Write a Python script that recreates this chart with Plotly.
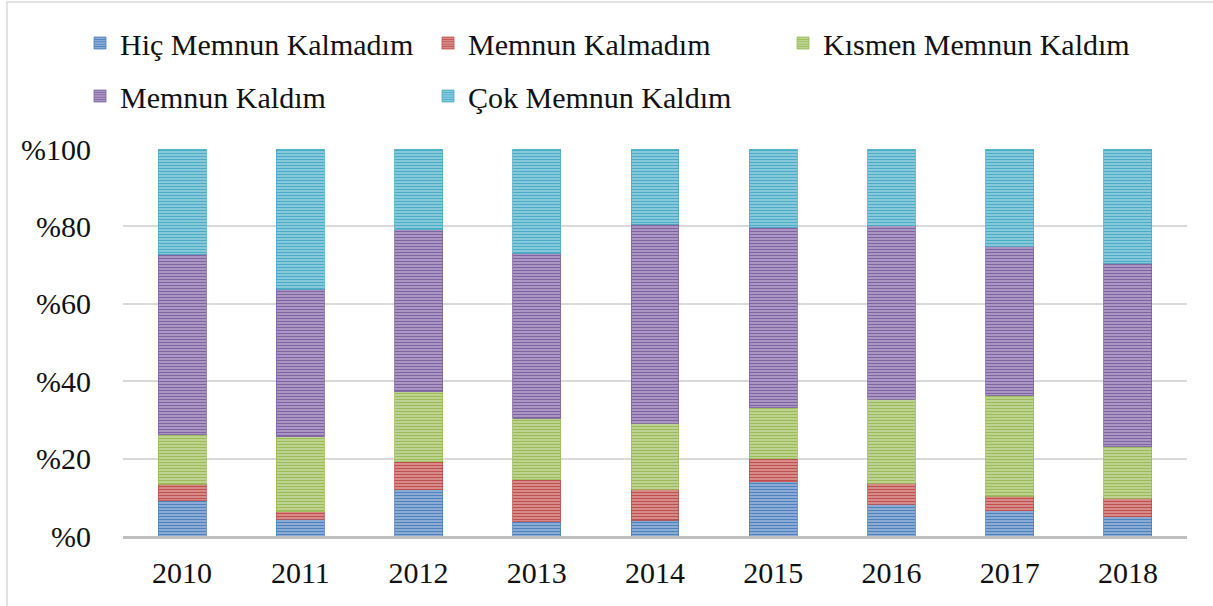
import plotly.graph_objects as go

years = ["2010", "2011", "2012", "2013", "2014", "2015", "2016", "2017", "2018"]
series_names = ["Hiç Memnun Kalmadım", "Memnun Kalmadım", "Kısmen Memnun Kaldım",
                "Memnun Kaldım", "Çok Memnun Kaldım"]
hic = [9.1, 4.3, 11.9, 3.7, 4.1, 14.0, 8.2, 6.5, 5.0]
kalmadim = [4.3, 2.0, 7.3, 10.8, 8.0, 5.9, 5.4, 3.8, 4.7]
kismen = [12.7, 19.4, 18.1, 15.9, 17.0, 13.3, 21.7, 26.1, 13.4]
kaldim = [46.7, 38.0, 41.8, 42.6, 51.4, 46.6, 44.9, 38.5, 47.4]
cok = [27.2, 36.3, 20.9, 27.0, 19.5, 20.2, 19.8, 25.1, 29.5]
tick_vals = [0, 20, 40, 60, 80, 100]
tick_text = ["%0", "%20", "%40", "%60", "%80", "%100"]

colors = ["#4F81BD", "#C0504D", "#9BBB59", "#8064A2", "#4BACC6"]
light = ["#B3C8E6", "#E6B3B2", "#D5E4B8", "#C5B7D9", "#AEDDEA"]
values = [hic, kalmadim, kismen, kaldim, cok]
legend_ids = ["legend", "legend2", "legend3", "legend4", "legend5"]

W, H = 1213, 606
L, R, T, B = 123, 26, 149, 70
pw, ph = W - L - R, H - T - B

def px_x(x):
    return (x - L) / pw

def px_y(y):
    return (H - B - y) / ph

SERIF = "Liberation Serif"
FONT = dict(family=SERIF, size=30, color="#111111")

fig = go.Figure()
for name, vals, c, lc, lg in zip(series_names, values, colors, light, legend_ids):
    fig.add_trace(go.Bar(
        x=years, y=vals, name=name, legend=lg,
        marker=dict(color=lc, line=dict(color=c, width=0.8),
                    pattern=dict(shape="-", fgcolor=c, bgcolor=lc, size=3, solidity=0.6)),
    ))

leg_pos = [(80, 43), (428, 43), (783, 43), (80, 96), (428, 96)]
legs = {}
for lg, (lx, ly) in zip(legend_ids, leg_pos):
    legs[lg] = dict(x=px_x(lx), y=px_y(ly), xanchor="left", yanchor="middle",
                    orientation="h", font=FONT,
                    bgcolor="rgba(0,0,0,0)", borderwidth=0)

fig.update_layout(
    width=W, height=H,
    template="none",
    margin=dict(l=L, r=R, t=T, b=B),
    barmode="stack",
    bargap=0.595,
    plot_bgcolor="white", paper_bgcolor="white",
    font=FONT,
    showlegend=True,
    **legs,
    shapes=[dict(type="rect", xref="paper", yref="paper",
                 x0=px_x(7), x1=px_x(1220), y0=px_y(2), y1=px_y(615),
                 line=dict(color="#D9D9D9", width=1.5), layer="below")],
)
fig.update_xaxes(showline=True, linecolor="#BFBFBF", linewidth=3, ticks="",
                 ticklabelstandoff=8, showgrid=False, tickfont=FONT)
fig.update_yaxes(range=[0, 100], tickvals=tick_vals, ticktext=tick_text,
                 showgrid=True, gridcolor="#D9D9D9", gridwidth=1.5,
                 zeroline=False, showline=False,
                 ticks="outside", ticklen=25, tickcolor="rgba(0,0,0,0)",
                 tickfont=FONT)

fig.write_html("out.html", config={"displayModeBar": False},
               post_script=["document.body.style.margin='0px';"])
